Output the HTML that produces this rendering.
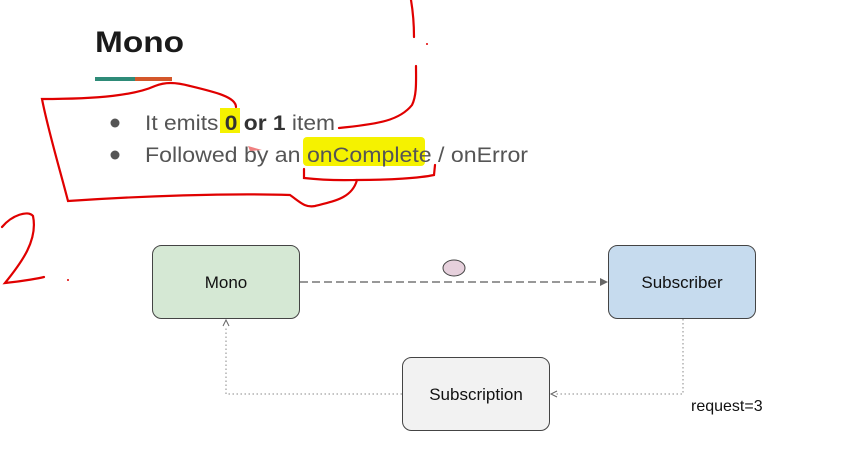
<!DOCTYPE html>
<html><head><meta charset="utf-8"><style>
html,body{margin:0;padding:0;background:#fff;width:868px;height:461px;overflow:hidden}
svg{display:block}
</style></head><body>
<svg width="868" height="461" xmlns="http://www.w3.org/2000/svg">
<text x="95" y="52" font-family="Liberation Sans, sans-serif" font-weight="bold" font-size="30" fill="#1a1a1a" textLength="89" lengthAdjust="spacingAndGlyphs">Mono</text>
<rect x="95" y="77" width="40" height="4" fill="#2e8b78"/>
<rect x="135" y="77" width="37" height="4" fill="#d4572a"/>
<rect x="220" y="108" width="20" height="25" fill="#f5f200"/>
<rect x="303" y="137" width="122" height="29" fill="#f5f200" rx="4"/>
<circle cx="115" cy="123" r="4.5" fill="#555"/>
<circle cx="115" cy="155" r="4.5" fill="#555"/>
<text x="145" y="130" font-family="Liberation Sans, sans-serif" font-size="21" fill="#555" textLength="190" lengthAdjust="spacingAndGlyphs">It emits <tspan font-weight="bold" fill="#333">0 or 1</tspan> item</text>
<text x="145" y="162" font-family="Liberation Sans, sans-serif" font-size="21" fill="#555" textLength="383" lengthAdjust="spacingAndGlyphs">Followed by an onComplete / onError</text>
<g fill="none" stroke="#e00000" stroke-width="2.2" stroke-linecap="round">
<path d="M236,107 C236,97 215,92 190,86 C175,82 165,82 155,86 C135,95 100,99 42,99 C48,130 60,170 68,201 C140,196 230,193 290,195 C300,202 305,208 315,206 C335,201 352,198 357,180"/>
<path d="M304,169 L304,178 C330,181 350,180 357,180 C390,180 420,178 434,175 L435,165"/>
<path d="M411,0 C413,12 414,25 414,37"/>
<path d="M416,66 C416,80 417,95 412,105 C400,120 380,124 339,128"/>
<path d="M2,227 C12,215 28,210 33,216 C38,240 22,262 5,283 C25,281 40,278 44,277"/>
</g>
<circle cx="427" cy="44" r="1" fill="#e00000"/>
<circle cx="68" cy="280" r="1" fill="#e00000"/>
<path d="M248,146 L262,150 L250,151 Z" fill="#f08080"/>
<rect x="152.5" y="245.5" width="147" height="73" rx="9" fill="#d5e8d4" stroke="#444" stroke-width="1"/>
<rect x="608.5" y="245.5" width="147" height="73" rx="9" fill="#c6dbee" stroke="#444" stroke-width="1"/>
<rect x="402.5" y="357.5" width="147" height="73" rx="9" fill="#f2f2f2" stroke="#444" stroke-width="1"/>
<g font-family="Liberation Sans, sans-serif" font-size="17" fill="#111" text-anchor="middle">
<text x="226" y="288">Mono</text>
<text x="682" y="288">Subscriber</text>
<text x="476" y="400">Subscription</text>
</g>
<text x="691" y="411" font-family="Liberation Sans, sans-serif" font-size="16" fill="#111">request=3</text>
<ellipse cx="454" cy="268" rx="11" ry="8" fill="#e6d0dc" stroke="#444" stroke-width="1"/>
<line x1="300" y1="282" x2="600" y2="282" stroke="#777" stroke-width="1.5" stroke-dasharray="8,4"/>
<path d="M600,278 L608,282 L600,286 Z" fill="#666"/>
<path d="M683,319 L683,394 L556,394" fill="none" stroke="#888" stroke-width="1" stroke-dasharray="1.5,2.5"/>
<path d="M557,391 L551,394 L557,397" fill="none" stroke="#666" stroke-width="1"/>
<path d="M402,394 L226,394 L226,326" fill="none" stroke="#888" stroke-width="1" stroke-dasharray="1.5,2.5"/>
<path d="M223,326 L226,320 L229,326" fill="none" stroke="#666" stroke-width="1"/>
</svg>
</body></html>
